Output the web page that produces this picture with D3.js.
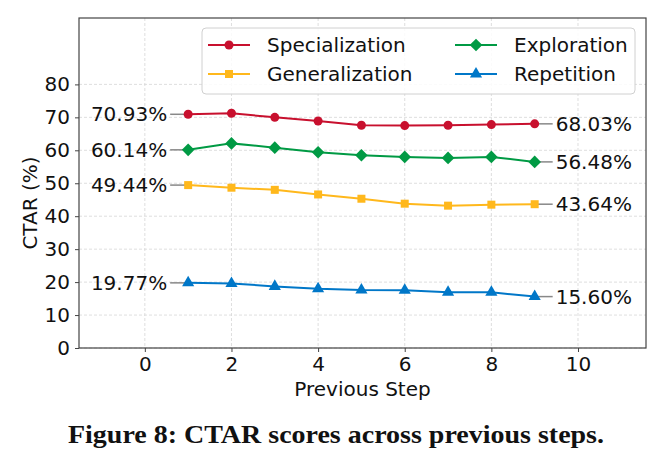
<!DOCTYPE html>
<html>
<head>
<meta charset="utf-8">
<script src="https://cdn.jsdelivr.net/npm/d3@7"></script>
<style>
body { margin: 0; background: #fff; }
svg text { font-family: "DejaVu Sans", sans-serif; }
</style>
</head>
<body>
<svg width="667" height="468"></svg>
<script>
var steps = [1, 2, 3, 4, 5, 6, 7, 8, 9];
var seriesNames = ["Specialization", "Generalization", "Exploration", "Repetition"];
var specialization = [70.93, 71.23, 70.0, 68.9, 67.6, 67.5, 67.6, 67.8, 68.03];
var exploration = [60.14, 62.1, 60.8, 59.4, 58.5, 58.0, 57.7, 58.0, 56.48];
var generalization = [49.44, 48.65, 48.0, 46.6, 45.3, 43.8, 43.2, 43.5, 43.64];
var repetition = [19.77, 19.6, 18.7, 18.0, 17.6, 17.5, 16.9, 16.9, 15.60];
var xTicks = [0, 2, 4, 6, 8, 10];
var yTicks = [0, 10, 20, 30, 40, 50, 60, 70, 80];

var svg = d3.select("svg");
var plotLeft = 79, plotRight = 646, plotTop = 18, plotBottom = 348;

var x = d3.scaleLinear().domain([-1.52, 11.57]).range([plotLeft, plotRight]);
var y = d3.scaleLinear().domain([0, 100]).range([plotBottom, plotTop + 0.5]);

// matplotlib-style "D": a square turned 45 degrees
var squareDiamond = {
  draw: function(context, size) {
    var r = Math.sqrt(size / 2);
    context.moveTo(0, -r);
    context.lineTo(r, 0);
    context.lineTo(0, r);
    context.lineTo(-r, 0);
    context.closePath();
  }
};

var series = [
  {name: seriesNames[0], values: specialization, color: "#c8102e", shape: d3.symbolCircle, size: 64},
  {name: seriesNames[1], values: generalization, color: "#ffb81c", shape: d3.symbolSquare, size: 64},
  {name: seriesNames[2], values: exploration, color: "#009a44", shape: squareDiamond, size: 80},
  {name: seriesNames[3], values: repetition, color: "#0077c8", shape: d3.symbolTriangle, size: 64}
];

// grid
var grid = svg.append("g").attr("stroke", "#d6d6d6").attr("stroke-dasharray", "3,2").attr("stroke-width", 0.8);
grid.selectAll(".gx").data(xTicks).enter().append("line")
  .attr("x1", function(d) { return x(d); }).attr("x2", function(d) { return x(d); })
  .attr("y1", plotTop).attr("y2", plotBottom);
grid.selectAll(".gy").data(yTicks).enter().append("line")
  .attr("y1", function(d) { return y(d); }).attr("y2", function(d) { return y(d); })
  .attr("x1", plotLeft).attr("x2", plotRight);

// axes
var xAxis = svg.append("g")
  .attr("transform", "translate(0," + plotBottom + ")")
  .call(d3.axisBottom(x).tickValues(xTicks).tickSize(4).tickPadding(5));
var yAxis = svg.append("g")
  .attr("transform", "translate(" + plotLeft + ",0)")
  .call(d3.axisLeft(y).tickValues(yTicks).tickSize(4).tickPadding(5));
[xAxis, yAxis].forEach(function(a) {
  a.select(".domain").remove();
  a.selectAll("line").attr("stroke", "#444");
  a.selectAll("text").attr("font-size", 20).attr("fill", "#111")
    .style("font-family", "DejaVu Sans, sans-serif");
});

svg.append("rect")
  .attr("x", plotLeft).attr("y", plotTop)
  .attr("width", plotRight - plotLeft).attr("height", plotBottom - plotTop)
  .attr("fill", "none").attr("stroke", "#444").attr("stroke-width", 1.2);

svg.append("text")
  .attr("x", (plotLeft + plotRight) / 2).attr("y", 396)
  .attr("text-anchor", "middle").attr("font-size", 20).attr("fill", "#111")
  .text("Previous Step");
svg.append("text")
  .attr("transform", "translate(37," + ((plotTop + plotBottom) / 2 + 20) + ")rotate(-90)")
  .attr("text-anchor", "middle").attr("font-size", 20).attr("fill", "#111")
  .text("CTAR (%)");

var line = d3.line()
  .x(function(d, i) { return x(steps[i]); })
  .y(function(d) { return y(d); });

// connectors and end labels
series.forEach(function(s) {
  var first = s.values[0], last = s.values[s.values.length - 1];
  var x0 = x(steps[0]), x1 = x(steps[steps.length - 1]);
  svg.append("line")
    .attr("x1", x0 - 18).attr("x2", x0)
    .attr("y1", y(first)).attr("y2", y(first))
    .attr("stroke", "#888").attr("stroke-width", 1.5);
  svg.append("line")
    .attr("x1", x1).attr("x2", x1 + 18)
    .attr("y1", y(last)).attr("y2", y(last))
    .attr("stroke", "#888").attr("stroke-width", 1.5);
  svg.append("text")
    .attr("x", x0 - 21).attr("y", y(first)).attr("dy", "0.35em")
    .attr("text-anchor", "end").attr("font-size", 20).attr("fill", "#111")
    .text(first.toFixed(2) + "%");
  svg.append("text")
    .attr("x", x1 + 21).attr("y", y(last)).attr("dy", "0.35em")
    .attr("text-anchor", "start").attr("font-size", 20).attr("fill", "#111")
    .text(last.toFixed(2) + "%");
});

series.forEach(function(s) {
  svg.append("path")
    .datum(s.values)
    .attr("d", line)
    .attr("fill", "none")
    .attr("stroke", s.color)
    .attr("stroke-width", 2);
  svg.append("g").selectAll("path")
    .data(s.values).enter().append("path")
    .attr("transform", function(d, i) { return "translate(" + x(steps[i]) + "," + y(d) + ")"; })
    .attr("d", d3.symbol().type(s.shape).size(s.size))
    .attr("fill", s.color);
});

// legend
var legend = svg.append("g");
legend.append("rect")
  .attr("x", 202).attr("y", 28).attr("width", 433).attr("height", 66).attr("rx", 4)
  .attr("fill", "#fff").attr("fill-opacity", 0.85).attr("stroke", "#d0d0d0");
series.forEach(function(s, i) {
  var col = Math.floor(i / 2), row = i % 2;
  var lx = 208 + col * 247, ly = 45 + row * 29;
  legend.append("line")
    .attr("x1", lx).attr("x2", lx + 42).attr("y1", ly).attr("y2", ly)
    .attr("stroke", s.color).attr("stroke-width", 2);
  legend.append("path")
    .attr("transform", "translate(" + (lx + 21) + "," + ly + ")")
    .attr("d", d3.symbol().type(s.shape).size(s.size))
    .attr("fill", s.color);
  legend.append("text")
    .attr("x", lx + 59).attr("y", ly).attr("dy", "0.35em")
    .attr("font-size", 20).attr("fill", "#111")
    .text(s.name);
});

svg.append("text")
  .attr("x", 336).attr("y", 443)
  .attr("text-anchor", "middle")
  .style("font-family", "Liberation Serif, serif")
  .attr("font-weight", "bold").attr("font-size", 26).attr("fill", "#111")
  .attr("textLength", 536).attr("lengthAdjust", "spacingAndGlyphs")
  .text("Figure 8: CTAR scores across previous steps.");
</script>
</body>
</html>
